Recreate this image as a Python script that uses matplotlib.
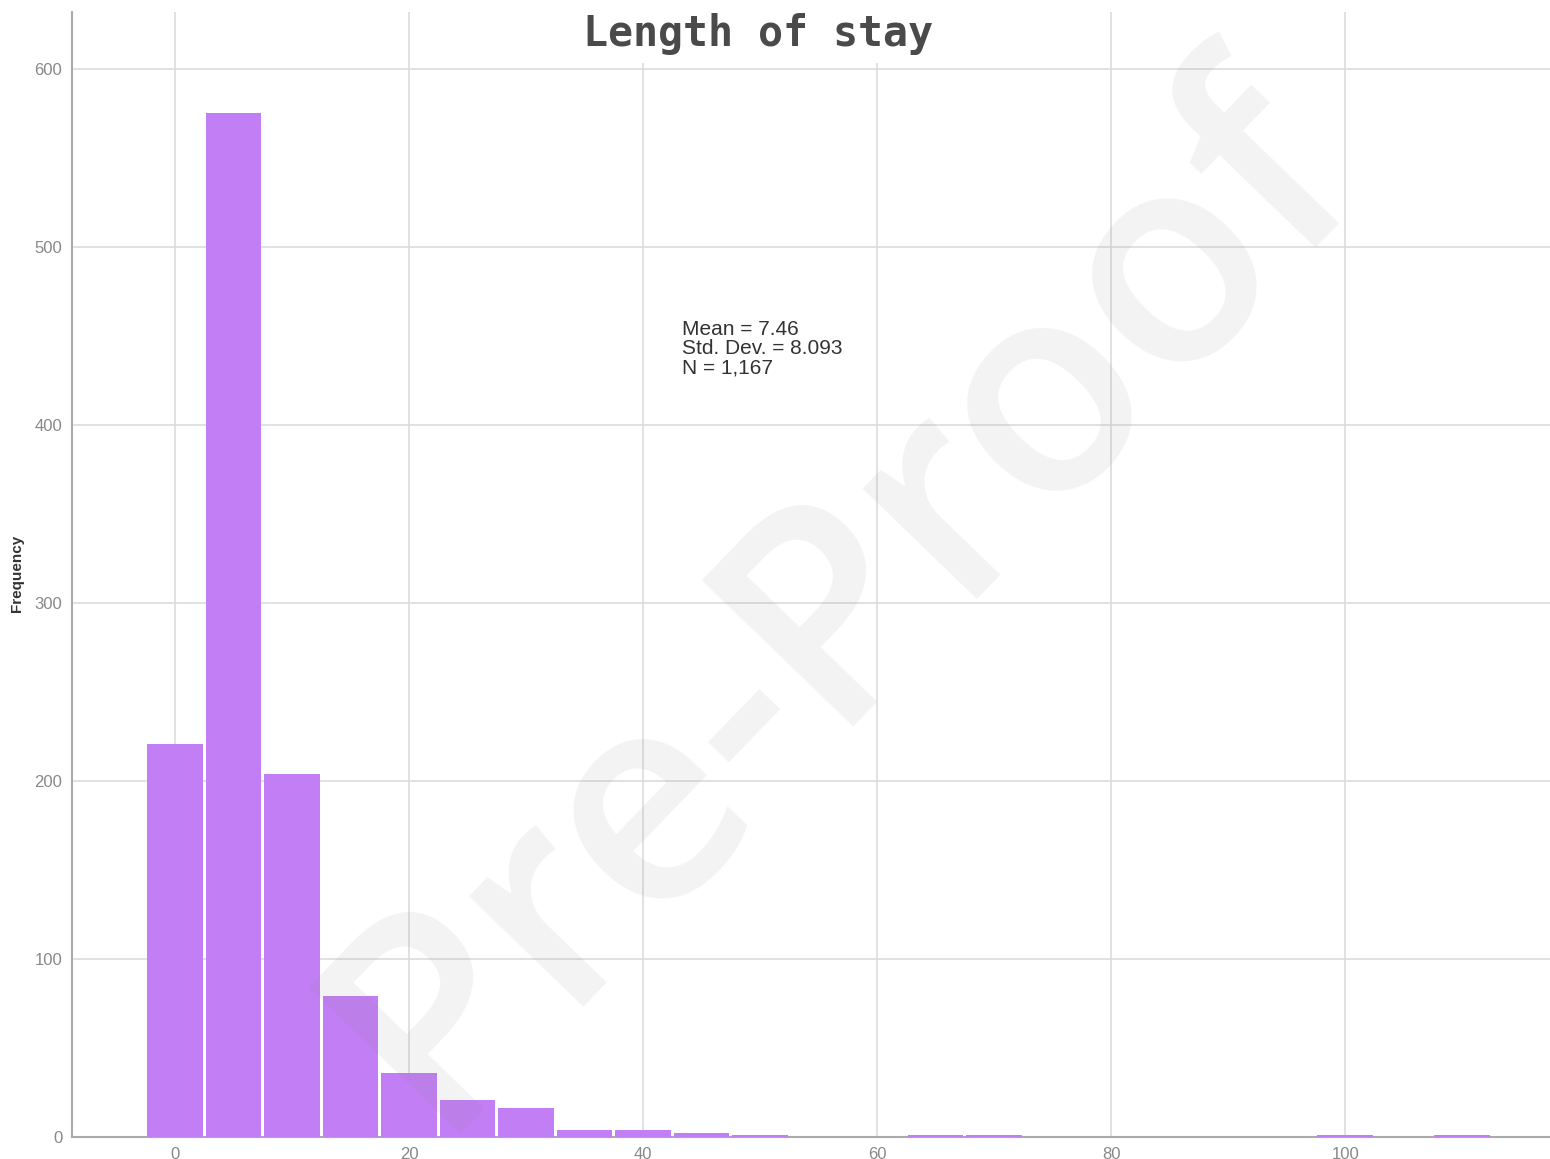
import matplotlib
matplotlib.use("Agg")
import matplotlib.pyplot as plt

# length of stay histogram, bins 5 days wide centred on multiples of 5
bin_centres = [0, 5, 10, 15, 20, 25, 30, 35, 40, 45, 50, 65, 70, 100, 110]
counts = [221, 575, 204, 79, 36, 21, 16, 4, 4, 2, 1, 1, 1, 1, 1]
bin_width = 5

x_ticks = [0, 20, 40, 60, 80, 100]
y_ticks = [0, 100, 200, 300, 400, 500, 600]

stats_text = "Mean = 7.46\nStd. Dev. = 8.093\nN = 1,167"

fig = plt.figure(figsize=(15.5, 11.59), dpi=100)
ax = fig.add_axes([0.0465, 0.019, 0.9535, 0.9707])

# bars drawn slightly narrower than the bin so a thin white gap shows
ax.bar(bin_centres, counts, width=bin_width - 0.25, color="#c27ef4",
       linewidth=0, zorder=3)

ax.set_xlim(-8.8, 117.5)
ax.set_ylim(0, 632)
ax.set_xticks(x_ticks)
ax.set_yticks(y_ticks)
ax.tick_params(length=0, labelsize=12, labelcolor="#888888", pad=7)
for lbl in ax.get_xticklabels() + ax.get_yticklabels():
    lbl.set_family("Liberation Sans")
ax.grid(True, color="#dcdcdc", linewidth=1.2, zorder=0)
ax.set_axisbelow(True)

for side in ["top", "right"]:
    ax.spines[side].set_visible(False)
for side in ["left", "bottom"]:
    ax.spines[side].set_color("#aaaaaa")
    ax.spines[side].set_linewidth(1.5)

ax.set_ylabel("Frequency", fontsize=11, fontweight="bold", color="#333333",
              family="Liberation Sans")
ax.yaxis.set_label_coords(-0.0325, 0.501)

ax.text(43.3, 459, stats_text, fontsize=15, family="Liberation Sans",
        color="#333333", va="top", ha="left", linespacing=1.03, zorder=4)

fig.text(0.489, 0.971, "Length of stay", family="DejaVu Sans Mono",
         fontweight="bold", fontsize=30, color="#4a4a4a", ha="center",
         va="center", bbox=dict(facecolor="white", edgecolor="none", pad=6),
         zorder=5)

# watermark
fig.text(0.543, 0.482, "Pre-Proof", family="Open Sans", fontsize=212,
         fontweight="semibold", color="#7f7f7f", alpha=0.09, rotation=46,
         ha="center", va="center", rotation_mode="anchor", zorder=10)

fig.savefig("out.png", dpi=100, facecolor="white")
